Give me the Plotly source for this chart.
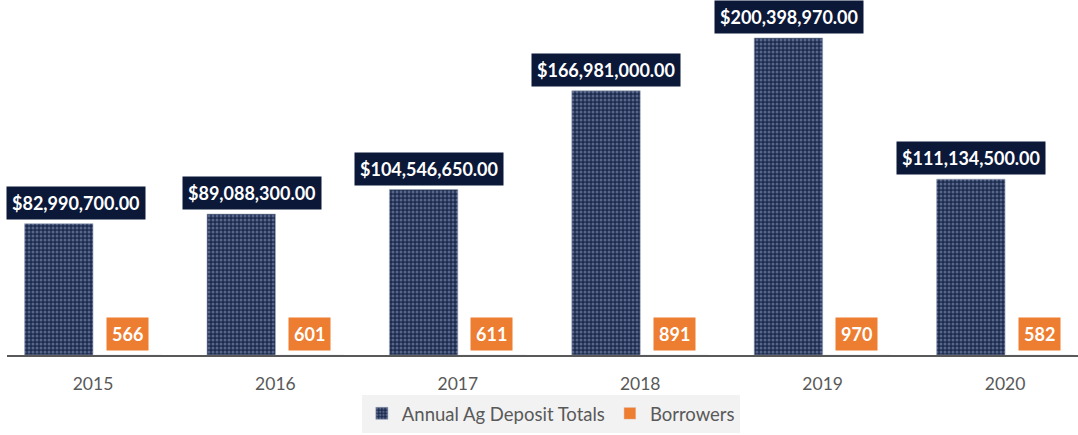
import plotly.graph_objects as go

years = ["2015", "2016", "2017", "2018", "2019", "2020"]
deposits = [82990700.00, 89088300.00, 104546650.00, 166981000.00, 200398970.00, 111134500.00]
borrowers = [566, 601, 611, 891, 970, 582]

NAVY = "#0b1838"
ORANGE = "#ed7d31"
GRAY = "#595959"

# horizontal nudges of the deposit callouts (px), as placed in the original
label_nudge = [-17.5, -23.5, -29, -34, -34, -34]

fig = go.Figure()
fig.add_trace(go.Bar(
    x=years, y=deposits, name="Annual Ag Deposit Totals",
    marker=dict(color="#1d2b4c",
                line=dict(color="#9aa4b8", width=0.6),
                pattern=dict(shape=".", bgcolor="#1d2b4c", fgcolor="#56668c",
                             size=4, solidity=0.45, fillmode="replace")),
))
fig.add_trace(go.Bar(
    x=years, y=borrowers, name="Borrowers",
    marker=dict(color=ORANGE),
))

for i, d in enumerate(deposits):
    fig.add_annotation(
        x=i, y=d, xref="x", yref="y", xshift=label_nudge[i], yshift=4,
        text="<b>" + "&#36;" + f"{d:,.2f}" + "</b>", showarrow=False,
        yanchor="bottom", xanchor="center",
        font=dict(family="Lato", size=18, color="white"),
        bgcolor=NAVY, borderpad=5,
    )
for i, b in enumerate(borrowers):
    fig.add_annotation(
        x=i, y=0, xref="x", yref="y", xshift=34, yshift=4,
        text=f"<b>{b}</b>", showarrow=False, yanchor="bottom", xanchor="center",
        font=dict(family="Lato", size=18, color="white"),
        bgcolor=ORANGE, borderpad=5,
    )

fig.update_layout(
    width=1078, height=435,
    margin=dict(l=7, r=0, t=10, b=80),
    paper_bgcolor="white", plot_bgcolor="white",
    barmode="group", bargap=0.25, bargroupgap=0,
    showlegend=True,
    legend=dict(orientation="h", xref="container", yref="container",
                x=0.511, xanchor="center", y=0.005, yanchor="bottom",
                bgcolor="#f2f2f2", font=dict(family="Lato", size=18.5, color=GRAY),
                itemwidth=30, traceorder="normal"),
    font=dict(family="Lato"),
)
fig.update_xaxes(
    type="category", range=[-0.4715, 5.4],
    showline=True, linecolor=GRAY, linewidth=2,
    showgrid=False, ticks="", ticklabelstandoff=12,
    tickfont=dict(family="Lato", size=17.5, color=GRAY),
)
fig.update_yaxes(
    range=[0, 218.1e6], visible=False, showgrid=False, zeroline=False,
)

fig.write_html("out.html", config={"displayModeBar": False},
               post_script="document.body.style.margin='0';")
